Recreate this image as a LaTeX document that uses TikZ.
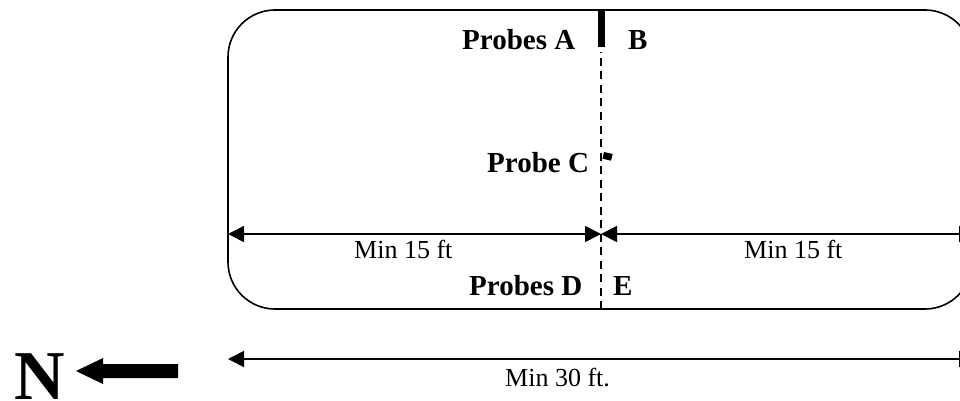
\documentclass[tikz,border=0pt]{standalone}
\usepackage{fontspec}
\setmainfont{Liberation Serif}
\usetikzlibrary{arrows.meta}
\tikzset{
  x=1pt,y=-1pt,
  field/.style={draw=black,line width=1.6pt,rounded corners=47pt},
  dimline/.style={draw=black,line width=1.7pt,{Triangle[length=16pt,width=16pt]}-{Triangle[length=16pt,width=16pt]}},
  centre/.style={draw=black,line width=1.3pt,dash pattern=on 8pt off 5.5pt},
  probe/.style={draw=none,fill=black},
  lab/.style={inner sep=0pt,font=\fontsize{29}{29}\selectfont\bfseries},
  dimlab/.style={inner sep=0pt,font=\fontsize{26}{26}\selectfont},
}
\begin{document}
\begin{tikzpicture}
\useasboundingbox (0,0) rectangle (960,401);
\clip (0,0) rectangle (960,401);
\coordinate (tc) at (601,52);
\coordinate (bc) at (601,309);
\coordinate (ml) at (228,234);
\coordinate (mc) at (601,234);
\coordinate (mr) at (975,234);
\coordinate (ll) at (228,359);
\coordinate (lr) at (975,359);
\draw[field] (228,10) rectangle (972,309);
\draw[centre] (bc) -- (tc);
\fill[probe] (598,10) rectangle (604.5,47);
\fill[probe] (604,152) -- (612.7,154) -- (611,160.7) -- (602.5,158.7) -- cycle;
\draw[dimline] (ml) -- (mc);
\draw[dimline] (mc) -- (mr);
\draw[dimline] (ll) -- (lr);
\node[lab,anchor=base west] (pa) at (462,50) {Probes A};
\node[lab,anchor=base west] (pb) at (628,50) {B};
\node[lab,anchor=base west] (pc) at (487,172) {Probe C};
\node[lab,anchor=base west] (pd) at (469,295) {Probes D};
\node[lab,anchor=base west] (pe) at (613,295) {E};
\node[dimlab,anchor=base west] (d1) at (354,258) {Min 15 ft};
\node[dimlab,anchor=base west] (d2) at (744,258) {Min 15 ft};
\node[dimlab,anchor=base west] (d3) at (505,386) {Min 30 ft.};
\node[inner sep=0pt,anchor=base west,font=\fontsize{70}{70}\selectfont\bfseries] (north) at (14,399) {N};
\fill[probe] (76,371) -- (103,358) -- (103,364) -- (178,364) -- (178,378) -- (103,378) -- (103,384) -- cycle;
\end{tikzpicture}
\end{document}
